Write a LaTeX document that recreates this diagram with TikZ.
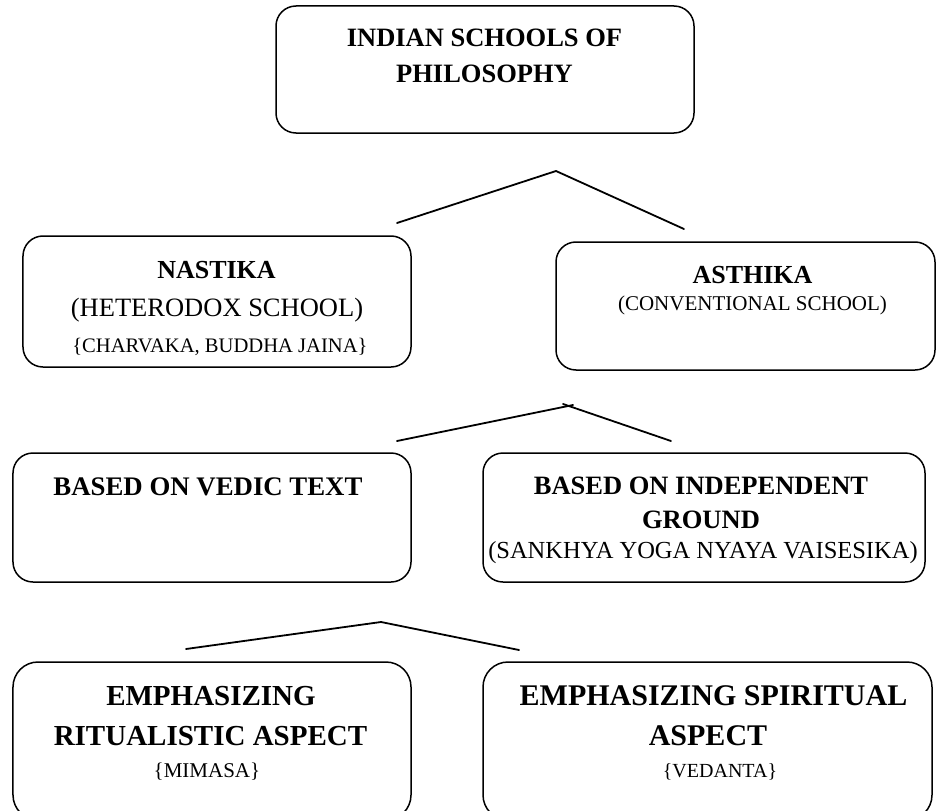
\documentclass[tikz,border=0pt]{standalone}
\usepackage{fontspec}
\setmainfont{Liberation Serif}
\begin{document}
\begin{tikzpicture}[x=1bp,y=-1bp,
  box/.style={draw, line width=1.5bp, rounded corners=#1, inner sep=0pt},
  box/.default=20bp,
  hd/.style={anchor=base, inner sep=0pt, font=\bfseries\fontsize{#1}{#1}\selectfont},
  tx/.style={anchor=base, inner sep=0pt, font=\fontsize{#1}{#1}\selectfont},
  link/.style={line width=1.8bp, line cap=round}]
\useasboundingbox (0,0) rectangle (937,811);
\clip (0,0) rectangle (937,811);
% boxes
\node[box, minimum width=418bp, minimum height=127bp] (top) at (485,69.5) {};
\node[box, minimum width=388bp, minimum height=131bp] (nas) at (217,301.5) {};
\node[box, minimum width=379bp, minimum height=128bp] (ast) at (745.5,306) {};
\node[box, minimum width=398bp, minimum height=129bp] (ved) at (212,517.5) {};
\node[box, minimum width=442bp, minimum height=129bp] (ind) at (704,517.5) {};
\node[box=25bp, minimum width=398bp, minimum height=158bp] (rit) at (212,741) {};
\node[box=25bp, minimum width=449bp, minimum height=158bp] (spi) at (707.5,741) {};
% texts
\node[hd=26.5bp] (t1) at (484.5,47) {INDIAN SCHOOLS OF};
\node[hd=26.5bp] (t2) at (484.5,83) {PHILOSOPHY};
\node[hd=26bp] (n1) at (216.5,278) {NASTIKA};
\node[tx=26.5bp] (n2) at (217,316) {(HETERODOX SCHOOL)};
\node[tx=20.6bp] (n3) at (220,352) {\{CHARVAKA, BUDDHA JAINA\}};
\node[hd=26bp] (a1) at (752.5,283) {ASTHIKA};
\node[tx=21bp] (a2) at (752.5,310) {(CONVENTIONAL SCHOOL)};
\node[hd=26.8bp] (v1) at (208,495) {BASED ON VEDIC TEXT};
\node[hd=26.5bp] (i1) at (701,494) {BASED ON INDEPENDENT};
\node[hd=26.5bp] (i2) at (701,528) {GROUND};
\node[tx=24.5bp] (i3) at (703,558) {(SANKHYA YOGA NYAYA VAISESIKA)};
\node[hd=29bp] (r1) at (211,705) {EMPHASIZING};
\node[hd=29bp] (r2) at (210.5,745) {RITUALISTIC ASPECT};
\node[tx=21bp] (r3) at (207,777) {\{MIMASA\}};
\node[hd=30bp] (s1) at (713.5,705) {EMPHASIZING SPIRITUAL};
\node[hd=30bp] (s2) at (708,745) {ASPECT};
\node[tx=20bp] (s3) at (720,777) {\{VEDANTA\}};
% connectors
\coordinate (p1a) at (397,223);
\coordinate (p1b) at (556,171);
\coordinate (p1c) at (684,229);
\draw[link] (p1a) -- (p1b) -- (p1c);
\coordinate (p2a) at (397,441);
\coordinate (p2b) at (573,405);
\coordinate (p2c) at (563,404);
\coordinate (p2d) at (671,441);
\draw[link] (p2a) -- (p2b);
\draw[link] (p2c) -- (p2d);
\coordinate (p3a) at (186,649);
\coordinate (p3b) at (381,622);
\coordinate (p3c) at (519,650);
\draw[link] (p3a) -- (p3b) -- (p3c);
\end{tikzpicture}
\end{document}
